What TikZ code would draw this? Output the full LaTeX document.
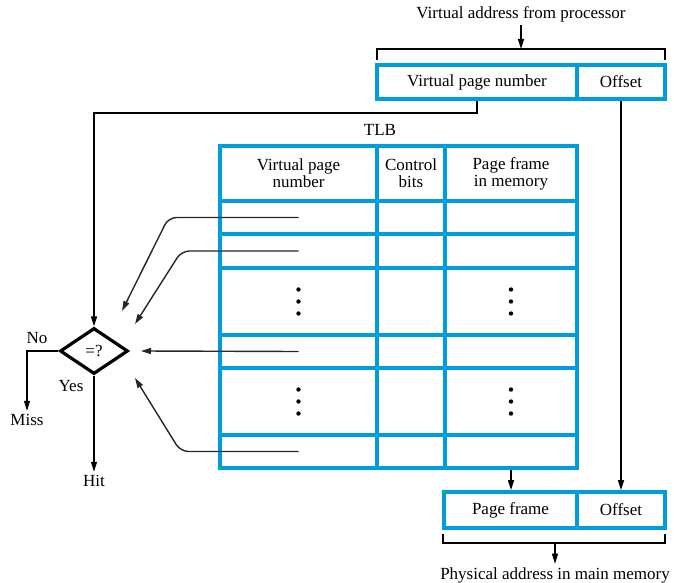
\documentclass[tikz,border=0pt]{standalone}
\usepackage{fontspec}
\setmainfont{Liberation Serif}
\usetikzlibrary{arrows.meta,shapes.geometric}
\definecolor{tlbblue}{RGB}{0,157,220}
\tikzset{
  cell/.style={draw=tlbblue, line width=3.8pt, inner sep=0pt, align=center},
  arr/.style={-{Triangle[length=10pt,width=6pt]}, line width=1.4pt},
  lookup/.style={arr, black!85, rounded corners=8pt},
}

\begin{document}
\begin{tikzpicture}[x=1pt, y=-1pt, font=\fontsize{17}{17}\selectfont]
    \useasboundingbox (0,0) rectangle (674,583);

    % 虚拟地址
    \node (src) at (521,14) {Virtual address from processor};
    \draw[line width=1.4pt] (377,60) -- (377,49) -- (665,49) -- (665,60);
    \coordinate (topbr) at (521,49);
    \draw[arr] (src.south) -- (topbr);
    \node[cell, minimum width=200pt, minimum height=34pt] (vpnbox) at (477,82) {Virtual page number};
    \node[cell, minimum width=88pt, minimum height=34pt] (offbox) at (621,82) {Offset};

    % TLB 表
    \node (tlb) at (380,130) {TLB};
    \node[cell, minimum width=157pt, minimum height=55pt] (h1) at (298.5,173.5) {Virtual page\\number};
    \node[cell, minimum width=68pt, minimum height=55pt] (h2) at (411,173.5) {Control\\bits};
    \node[cell, minimum width=132pt, minimum height=55pt] (h3) at (511,173.5) {Page frame\\in memory};
    \foreach \r/\y/\h in {1/217.5/33, 2/251/34, 3/301.5/67, 4/351.5/33, 5/401.5/67, 6/451.5/33} {
        \node[cell, minimum width=157pt, minimum height=\h*1pt] (e\r-a) at (298.5,\y) {};
        \node[cell, minimum width=68pt, minimum height=\h*1pt] (e\r-b) at (411,\y) {};
        \node[cell, minimum width=132pt, minimum height=\h*1pt] (e\r-c) at (511,\y) {};
    }
    \foreach \r in {3,5} \foreach \d in {-12,0,12} {
        \fill ([yshift=\d pt]e\r-a.center) circle (2.2pt);
        \fill ([yshift=\d pt]e\r-c.center) circle (2.2pt);
    }

    % 比较
    \node[diamond, draw, line width=3.2pt, aspect=1.48, minimum width=68pt, minimum height=46pt, inner sep=0pt] (cmp) at (94,351) {=?};
    \draw[arr] (vpnbox.south) -- ++(0,12) -| (cmp.north);
    \coordinate (t1) at (122,311);
    \coordinate (t2) at (135,324);
    \coordinate (t3) at (141,351);
    \coordinate (t4) at (135,378);
    \draw[lookup] (e1-a.center) -- ++(-130,0) -- (t1);
    \draw[lookup] (e2-a.center) -- ++(-117,0) -- (t2);
    \draw[lookup] (e4-a.center) -- (t3);
    \draw[lookup] (e6-a.center) -- ++(-118,0) -- (t4);

    \node (no) at (37,338) {No};
    \node (miss) at (27,420) {Miss};
    \draw[arr] (cmp.west) -| (miss.north);
    \node (yes) at (71,386) {Yes};
    \node (hit) at (94,481) {Hit};
    \draw[arr] (cmp.south) -- (hit.north);

    % 物理地址
    \node[cell, minimum width=133pt, minimum height=36pt] (pfbox) at (510.5,510) {Page frame};
    \node[cell, minimum width=88pt, minimum height=36pt] (poffbox) at (621,510) {Offset};
    \draw[arr] (e6-c.south) -- (e6-c.south |- pfbox.north);
    \draw[arr] (offbox.south) -- (poffbox.north);
    \draw[line width=1.4pt] (443,534) -- (443,543) -- (665,543) -- (665,534);
    \coordinate (botbr) at (555,543);
    \node (phys) at (555,575) {Physical address in main memory};
    \draw[arr] (botbr) -- (phys.north);
\end{tikzpicture}
\end{document}
